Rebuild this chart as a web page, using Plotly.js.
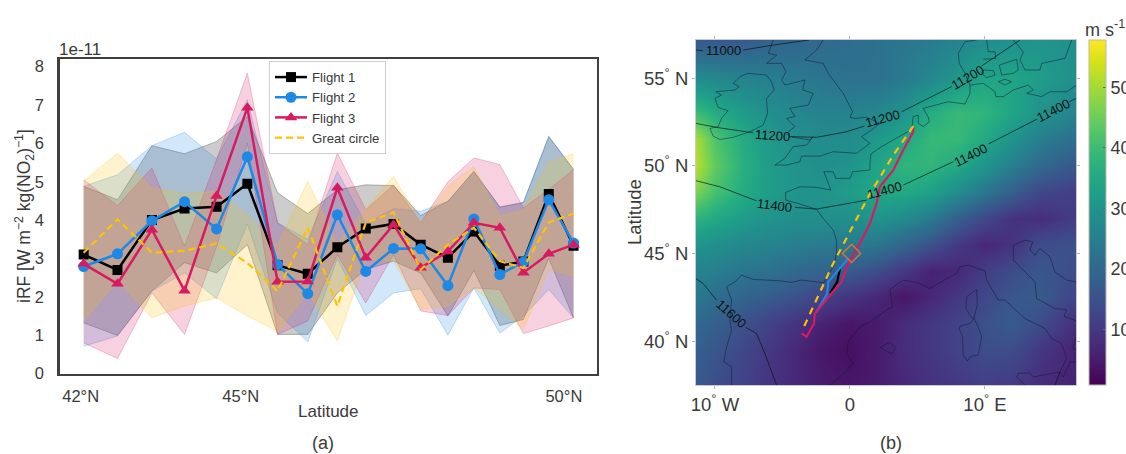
<!DOCTYPE html>
<html><head><meta charset="utf-8">
<script src="https://cdn.plot.ly/plotly-3.0.1.min.js"></script>
<style>html,body{margin:0;padding:0;background:#fff;overflow:hidden}#c{width:1126px;height:454px}</style>
</head><body><div id="c"></div>
<script>
// ---------- Panel (a) data ----------
const latitudes = [42.05,42.61,43.18,43.72,44.25,44.76,45.26,45.76,46.25,46.72,47.18,47.63,48.08,48.51,48.94,49.33,49.75,50.16];
const flight1 = [3.10,2.70,4.00,4.30,4.35,4.95,2.82,2.60,3.29,3.78,3.90,3.36,3.02,3.70,2.81,2.92,4.68,3.33];
const flight2 = [2.79,3.12,3.98,4.48,3.77,5.65,2.84,2.08,4.14,2.66,3.26,3.25,2.29,4.03,2.58,2.91,4.53,3.40];
const flight3 = [2.86,2.34,3.75,2.16,4.63,6.93,2.39,2.40,4.84,3.02,3.88,2.76,3.18,3.93,3.80,2.63,3.12,3.36];
const greatCircle = [3.15,4.02,3.15,3.20,3.39,2.88,2.15,3.80,1.76,3.93,4.20,2.71,3.36,3.80,2.93,2.75,3.94,4.17];
const flight1Upper = [4.88,4.53,5.94,5.73,6.05,6.70,4.71,4.17,4.79,4.92,4.90,4.12,4.49,5.27,4.34,4.46,6.18,5.32];
const flight1Lower = [1.32,0.99,2.15,2.89,2.62,3.36,1.02,1.02,2.10,2.71,2.93,2.62,1.50,2.69,1.25,1.41,3.00,1.45];
const flight2Upper = [4.88,5.18,5.94,6.29,5.59,7.14,3.93,3.50,5.27,3.90,4.30,4.23,4.49,5.27,4.34,4.46,6.18,5.32];
const flight2Lower = [0.71,0.98,2.15,2.62,1.95,3.90,1.58,0.82,3.00,1.51,2.10,2.21,1.00,2.23,1.05,1.50,2.19,1.45];
const flight3Upper = [5.05,4.38,5.36,3.32,5.58,7.83,3.93,3.36,5.75,4.27,4.92,3.93,5.00,5.62,5.45,4.32,4.80,5.32];
const flight3Lower = [0.80,0.39,2.10,1.02,3.30,6.00,1.02,1.37,3.10,1.84,3.10,1.63,1.51,2.23,2.19,1.04,1.24,1.45];
const circleUpper = [5.01,5.75,4.84,4.69,4.75,4.14,3.35,5.01,3.40,4.27,5.14,3.93,4.88,5.40,4.10,4.27,5.53,5.73];
const circleLower = [1.37,2.41,1.45,1.76,1.97,1.50,1.10,2.10,0.85,2.97,2.93,1.67,1.76,2.23,1.67,1.15,2.71,2.54];
const yTicksA = [0,1,2,3,4,5,6,7,8];
const xTickValsA = [42,44.65,50];
const xTickTextA = ['42°N','45°N','50°N'];

// ---------- Panel (b) data ----------
const gridLon = [-11.5,-10,-8,-6,-4,-2,0,2,4,6,8,10,12,14,16.8];
const gridLat = [37.4,39.5,41,42.5,44,45.5,47,48.5,50,51.5,53,55,57.3];
const windSpeed = [
 [17,14,12, 9, 7, 5, 4, 5, 7, 9,10,11,10, 8, 6],
 [18,16,13,10, 7, 4, 3, 5, 8,10,12,14,14,10, 6],
 [20,18,15,12, 9, 6, 4, 5, 8,10,12,15,17,14, 8],
 [24,21,19,17,15,12, 9, 7, 4, 7,10,13,16,17,12],
 [26,25,23,22,20,19,17,14,10, 6, 7,11,14,16,14],
 [30,29,27,26,25,24,24,23,19,15,10, 7, 9,14,15],
 [38,35,32,30,29,29,29,30,28,24,18,13, 9, 8,11],
 [47,41,36,32,30,30,32,35,35,33,28,23,18,13,11],
 [52,44,37,32,30,29,30,34,38,38,35,30,25,20,16],
 [51,42,36,31,29,28,28,31,35,39,39,35,30,25,21],
 [40,36,32,29,27,26,26,27,30,36,39,38,34,30,26],
 [28,27,26,25,24,23,22,22,24,27,31,34,34,32,29],
 [16,16,16,18,19,20,21,22,23,24,26,28,29,30,29]
];
const cbarTicks = [10,20,30,40,50];
const mapYTicks = [40,45,50,55];
const mapYText = ['40<sup>°</sup> N','45<sup>°</sup> N','50<sup>°</sup> N','55<sup>°</sup> N'];
const mapXTicks = [-10,0,10];
const mapXText = ['10<sup>°</sup> W','0','10<sup>°</sup> E'];

const ireland = [[-8.64,54.7],[-8.15,55.08],[-7.53,55.27],[-6.18,55.17],[-5.81,54.79],[-5.61,54.32],[-6.18,53.84],[-6.1,52.99],[-6.42,52.32],[-7.41,51.94],[-8.64,51.62],[-9.63,51.5],[-10.13,51.69],[-10.37,52.13],[-9.76,52.23],[-9.51,52.7],[-9.02,53.14],[-9.76,53.33],[-10,53.84],[-9.51,54.03],[-9.93,54.22],[-8.52,54.32],[-8.2,54.51],[-8.64,54.7]];
const britain = [[-5.68,57.17],[-6.05,56.41],[-5.43,56.31],[-6.18,55.84],[-5.06,55.84],[-4.74,55.36],[-5.06,54.89],[-4.82,54.6],[-3.34,54.89],[-3.51,54.32],[-2.72,54.13],[-3.09,53.46],[-4.45,53.27],[-4.08,52.8],[-4.69,52.7],[-4.08,52.23],[-4.69,51.85],[-4.45,51.66],[-2.97,51.47],[-2.72,51.66],[-3.21,51.18],[-4.2,51.09],[-4.82,50.42],[-5.56,50.04],[-4.69,50.04],[-3.71,50.23],[-3.58,50.55],[-2.23,50.55],[-1.24,50.8],[0.49,50.71],[1.48,51.28],[0.86,51.66],[1.6,52.04],[2.22,52.42],[1.23,52.76],[0.37,52.7],[0,52.76],[0.2,53.08],[-0.5,54.13],[-1.61,55.27],[-1.98,55.84],[-3.34,56.03],[-2.47,56.6],[-1.98,57.17]];
const channelCoast = [[-4.77,48.48],[-3.71,48.8],[-2.47,48.77],[-1.41,48.61],[-1.93,49.66],[-1.24,49.66],[-1.04,49.28],[0,49.28],[0.2,49.66],[1.48,49.76],[1.48,50.14],[1.55,50.67],[2.34,51.09],[4.57,52.07],[4.69,52.8],[5.06,52.89],[5.06,52.42],[5.43,52.23],[5.88,52.51],[5.8,52.76],[5.43,53.27],[7.28,53.65],[8.52,53.52],[8.89,54.13],[8.89,54.6],[8.52,55.27],[8.1,55.84],[8.02,56.41],[8.52,57.07],[9.38,57.17]];
const atlanticCoast = [[-4.77,48.48],[-4.74,48.04],[-3.71,47.82],[-2.47,47.51],[-1.98,47],[-1.24,46.33],[-1,45.76],[-0.99,45],[-1.24,44.24],[-1.93,43.33],[-3.58,43.48],[-4.32,43.35],[-5.19,43.44],[-7.16,43.52],[-8.03,43.76],[-8.52,43.38],[-9.14,43.1],[-8.77,42.34],[-8.89,41.2],[-8.77,40.63],[-9.19,39.49],[-9.34,38.82],[-8.77,38.54],[-8.77,37.49]];
const medCoast = [[-1.48,37.49],[-0.74,37.96],[0.24,38.73],[-0.25,39.3],[-0.13,39.96],[0.74,40.82],[1.48,41.1],[2.71,41.77],[3.16,41.96],[2.96,42.95],[3.95,43.48],[5.06,43.33],[5.92,43],[6.54,43.29],[7.9,43.86],[8.15,44.24],[8.76,44.33],[10,44.01],[10.12,43.48],[10.99,42.34],[11.48,42.34],[12.96,41.29],[14.44,40.72],[14.94,40.15],[15.68,39.87],[16.05,39.01],[15.55,38.25],[15.18,37.49]];
const adriatic = [[16.74,43.38],[16.05,43.48],[15.18,43.95],[14.81,44.81],[14.07,45.28],[13.7,44.9],[13.33,45.19],[13.53,45.66],[12.96,45.76],[12.1,45.47],[12.1,44.62],[13.7,43.38],[13.83,42.43],[15.18,41.86],[16.05,41.8],[15.85,41.42],[16.74,41.16]];
const ionian = [[16.74,40.25],[16.49,39.58],[16.74,39.49]];
const calabria = [[16.74,38.82],[16.3,38.82],[15.8,37.96],[15.55,38.25]];
const sicily = [[12.96,37.49],[12.34,37.96],[12.47,38.16],[13.33,38.19],[13.58,37.96],[15.55,38.25],[15.18,37.49]];
const corsica = [[9.38,42.95],[9.43,42.05],[9.18,41.29],[9.01,41.35],[8.59,41.86],[8.64,42.53],[9.38,42.95]];
const sardinia = [[9.18,41.29],[8.89,41.01],[8.15,40.85],[8.1,40.66],[8.34,40.25],[8.39,39.2],[8.69,38.86],[8.96,39.14],[9.5,39.2],[9.75,40.25],[9.5,40.82],[9.18,41.29]];
const mallorca = [[2.22,39.64],[2.91,39.92],[3.41,39.64],[3.09,39.26],[2.22,39.64]];
const balticCoast = [[8.89,54.6],[9.88,54.7],[10.74,54.22],[10.81,53.94],[11.36,53.94],[12.1,54.32],[13.21,54.6],[13.58,54.32],[13.09,54.13],[14.2,53.94],[14.81,54.22],[16.05,54.22],[16.79,54.6]];
const sweden = [[12.1,57.17],[12.84,56.5],[12.59,56.03],[12.96,55.46],[14.07,55.46],[14.2,55.84],[15.92,56.12],[16.42,57.17]];
const jutland = [[10.12,57.17],[10.25,56.5],[10.74,56.5],[10.81,56.12],[9.88,56.07]];
const funen = [[9.88,55.46],[10.62,55.42],[10.74,55.17],[10.12,55.02],[9.75,55.27],[9.88,55.46]];
const zealand = [[11.06,55.74],[12.35,56.07],[12.47,55.46],[12.1,55.27],[11.23,55.17],[11.06,55.74]];
const lolland = [[10.99,54.79],[11.48,54.93],[11.97,54.79],[11.48,54.6],[10.99,54.79]];
const coasts = [ireland,britain,channelCoast,atlanticCoast,medCoast,adriatic,ionian,calabria,sicily,corsica,sardinia,mallorca,balticCoast,sweden,jutland,funen,zealand,lolland];

const contourLines = [
 [[-11.41,56.6],[-10.87,56.56]],
 [[-7.9,56.6],[-5.68,56.88],[-3.02,57.17]],
 [[-11.41,52.42],[-9.88,52.19],[-7.16,51.88]],
 [[-4.45,51.66],[-2.47,51.62],[-0.25,51.94],[1.06,52.26]],
 [[3.83,53.08],[7.53,54.51]],
 [[9.75,55.69],[12.59,57.17]],
 [[-11.41,49.15],[-9.63,48.8],[-6.92,48]],
 [[-4.08,47.63],[-2.47,47.53],[1.23,48.04]],
 [[3.95,48.9],[7.65,50.23]],
 [[10.25,51.24],[13.83,52.65]],
 [[16.25,53.65],[16.74,53.84]],
 [[-11.41,43.57],[-10.87,43.29],[-9.88,42.34]],
 [[-7.71,40.78],[-6.92,40.44],[-6.3,39.3],[-5.43,37.49]]
];
const contourLabels = ['11000','11200','11200','11200','11400','11400','11400','11400','11600'];
const contourLabelLon = [-9.39,-5.77,2.43,8.72,-5.6,2.55,8.9,15.07,-8.8];
const contourLabelLat = [56.6,51.7,52.7,55.04,47.76,48.6,50.6,53.14,41.58];
const contourLabelAngle = [0,4,-15,-30,7,-15,-27,-27,42];

const track3Lon = [4.69,4.69,3.95,3.21,2.22,1.97,1.48,1.23,0.86,-0.25,-0.62,-1.48,-2.6,-2.67,-3.21,-3.58];
const track3Lat = [52.23,51.94,50.9,49.75,48.8,47.85,46.71,46.33,45.76,44.24,43.38,42.62,41.58,41,40.25,40.44];
const track2Lon = [-0.13,-1.6,-1.68,-2.47];
const track2Lat = [44.71,43.38,42.72,41.67];
const track1Lon = [-0.74,-0.94,-1.48];
const track1Lat = [44.14,43.38,42.72];
const circleLon = [4.69,3.21,1.36,-1.24,-3.39];
const circleLat = [52.26,50.61,48.23,44.43,40.85];
const waypointLon = [0.12];
const waypointLat = [45.0];

// ---------- Figure ----------
const W = 1126, H = 454;
const TEXT = '#3a3a3a', FONT = 'Liberation Sans, Arial, sans-serif';
const band = (upper, lower, rgb, alpha) => [
 {x:latitudes,y:upper,xaxis:'x',yaxis:'y',mode:'lines',line:{color:`rgba(${rgb},${alpha+0.05})`,width:1},showlegend:false,hoverinfo:'skip'},
 {x:latitudes,y:lower,xaxis:'x',yaxis:'y',mode:'lines',line:{color:`rgba(${rgb},${alpha+0.05})`,width:1},fill:'tonexty',fillcolor:`rgba(${rgb},${alpha})`,showlegend:false,hoverinfo:'skip'}
];
const BLACK='0,0,0',BLUE='30,136,229',PINK='216,27,96',YEL='255,193,7';
const flat = segs => { const x=[],y=[]; segs.forEach(s=>{s.forEach(p=>{x.push(p[0]);y.push(p[1]);}); x.push(null); y.push(null);}); return {x,y}; };
const coastXY = flat(coasts), contourXY = flat(contourLines);

const traces = [
 {type:'heatmap',x:gridLon,y:gridLat,z:windSpeed,xaxis:'x2',yaxis:'y2',colorscale:'Viridis',zmin:0.8,zmax:57.8,zsmooth:'best',showlegend:false,hoverinfo:'skip',
  colorbar:{x:1089/W,xanchor:'left',xpad:0,y:1-40/H,yanchor:'top',ypad:0,len:345/H,lenmode:'fraction',thickness:17,thicknessmode:'pixels',outlinewidth:1,outlinecolor:'#b9b9a8',
   tickvals:cbarTicks,ticks:'inside',ticklen:3,tickcolor:'#666',tickwidth:1,tickfont:{family:FONT,size:18,color:TEXT}}},
 {x:coastXY.x,y:coastXY.y,xaxis:'x2',yaxis:'y2',mode:'lines',line:{color:'rgba(20,20,50,0.55)',width:0.9},showlegend:false,hoverinfo:'skip'},
 {x:contourXY.x,y:contourXY.y,xaxis:'x2',yaxis:'y2',mode:'lines',line:{color:'rgba(10,10,10,0.7)',width:0.9},showlegend:false,hoverinfo:'skip'},
 {x:track1Lon,y:track1Lat,xaxis:'x2',yaxis:'y2',mode:'lines',line:{color:'#000',width:2.2},showlegend:false,hoverinfo:'skip'},
 {x:track2Lon,y:track2Lat,xaxis:'x2',yaxis:'y2',mode:'lines',line:{color:'#1E88E5',width:2.2},showlegend:false,hoverinfo:'skip'},
 {x:track3Lon,y:track3Lat,xaxis:'x2',yaxis:'y2',mode:'lines',line:{color:'#D81B60',width:2.2},showlegend:false,hoverinfo:'skip'},
 {x:circleLon,y:circleLat,xaxis:'x2',yaxis:'y2',mode:'lines',line:{color:'#FFC107',width:2.2,dash:'7px,6px'},showlegend:false,hoverinfo:'skip'},
 {x:waypointLon,y:waypointLat,xaxis:'x2',yaxis:'y2',mode:'markers',marker:{symbol:'diamond-open',size:14,color:'#E0703A',line:{width:1.4,color:'#E0703A'}},showlegend:false,hoverinfo:'skip'},
 ...band(flight1Upper,flight1Lower,BLACK,0.2),
 ...band(flight2Upper,flight2Lower,BLUE,0.2),
 ...band(flight3Upper,flight3Lower,PINK,0.2),
 ...band(circleUpper,circleLower,YEL,0.2),
 {name:'Flight 1',x:latitudes,y:flight1,xaxis:'x',yaxis:'y',mode:'lines+markers',line:{color:'#000',width:2.5},marker:{symbol:'square',size:10,color:'#000'}},
 {name:'Flight 2',x:latitudes,y:flight2,xaxis:'x',yaxis:'y',mode:'lines+markers',line:{color:'#1E88E5',width:2.5},marker:{symbol:'circle',size:11,color:'#1E88E5'}},
 {name:'Flight 3',x:latitudes,y:flight3,xaxis:'x',yaxis:'y',mode:'lines+markers',line:{color:'#D81B60',width:2.5},marker:{symbol:'triangle-up',size:11,color:'#D81B60'}},
 {name:'Great circle',x:latitudes,y:greatCircle,xaxis:'x',yaxis:'y',mode:'lines',line:{color:'#FFC107',width:2.2,dash:'7px,4px'}}
];

const paperNote = (text,px,py,size,extra={}) => Object.assign({text,xref:'paper',yref:'paper',x:px/W,y:1-py/H,xanchor:'center',yanchor:'middle',showarrow:false,font:{family:FONT,size,color:TEXT}},extra);
const annotations = [
 paperNote('1e-11',80,50,17),
 paperNote('iRF [W m<sup>−2</sup> kg(NO<sub>2</sub>)<sup>−1</sup>]',25,216,17.5,{textangle:-90}),
 paperNote('Latitude',328,411,17),
 paperNote('(a)',323,443,18),
 paperNote('(b)',891,443,18),
 paperNote('Latitude',634,212,18.5,{textangle:-90}),
 paperNote('m s<sup>-1</sup>',1105,28,18),
 ...contourLabels.map((t,i)=>({text:t,xref:'x2',yref:'y2',x:contourLabelLon[i],y:contourLabelLat[i],showarrow:false,textangle:contourLabelAngle[i],font:{family:FONT,size:13,color:'#111'}}))
];

const layout = {
 width:W,height:H,margin:{l:0,r:0,t:0,b:0,pad:0,autoexpand:false},paper_bgcolor:'#fff',plot_bgcolor:'#fff',font:{family:FONT,color:TEXT},
 xaxis:{domain:[59.5/W,596.5/W],range:[41.65,50.54],tickvals:xTickValsA,ticktext:xTickTextA,ticks:'outside',ticklen:6,tickcolor:'rgba(0,0,0,0)',showgrid:false,zeroline:false,showline:true,mirror:true,linecolor:'#404040',linewidth:2.2,tickfont:{size:16.5,color:TEXT,family:FONT},anchor:'y'},
 yaxis:{domain:[1-373.5/H,1-59/H],range:[0,8.2],tickvals:yTicksA,ticks:'outside',ticklen:10,tickcolor:'rgba(0,0,0,0)',showgrid:false,zeroline:false,showline:true,mirror:true,linecolor:'#404040',linewidth:2.2,tickfont:{size:16.5,color:TEXT,family:FONT},anchor:'x'},
 xaxis2:{domain:[696/W,1076/W],range:[-11.4,16.74],tickvals:mapXTicks,ticktext:mapXText,ticks:'outside',ticklen:3,tickcolor:'#b5b5b5',tickwidth:1,showgrid:false,zeroline:false,showline:true,mirror:'ticks',linecolor:'#c8c8d8',linewidth:1,tickfont:{size:18.5,color:TEXT,family:FONT},anchor:'y2'},
 yaxis2:{domain:[1-385/H,1-40/H],range:[37.5,57.17],tickvals:mapYTicks,ticktext:mapYText,ticks:'outside',ticklen:3,tickcolor:'#b5b5b5',tickwidth:1,showgrid:false,zeroline:false,showline:true,mirror:'ticks',linecolor:'#c8c8d8',linewidth:1,tickfont:{size:18.5,color:TEXT,family:FONT},anchor:'x2'},
 legend:{x:269/W,y:1-61/H,xanchor:'left',yanchor:'top',bgcolor:'rgba(255,255,255,0.9)',bordercolor:'#cfcfcf',borderwidth:1,font:{size:13.2,color:TEXT,family:FONT},itemwidth:32,tracegroupgap:0,traceorder:'normal'},
 annotations
};
Plotly.newPlot('c',traces,layout,{staticPlot:true,displayModeBar:false});
</script></body></html>
